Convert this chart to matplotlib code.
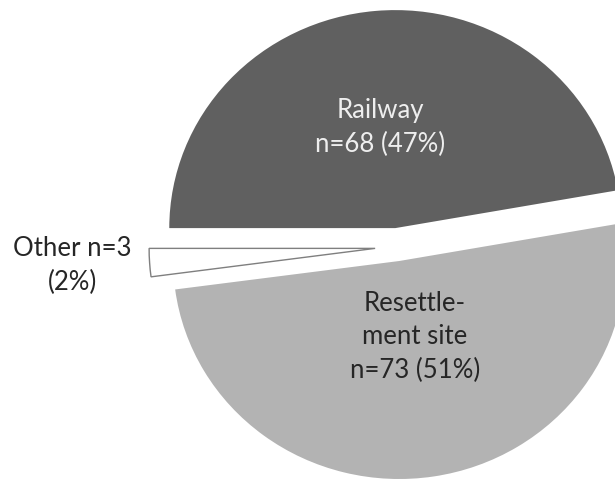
import matplotlib.pyplot as plt

# counts per site
labels = ["Railway", "Other", "Resettlement site"]
counts = [68, 3, 73]
colors = ["#606060", "#ffffff", "#b3b3b3"]
explode = [0.087, 0.097, 0.065]

total = sum(counts)
pct = [round(100 * c / total) for c in counts]

plt.rcParams["font.family"] = ["Lato", "DejaVu Sans"]

fig = plt.figure(figsize=(6.15, 4.8), dpi=100)
ax = fig.add_axes([0, 0, 1, 1])

wedges, _ = ax.pie(counts, colors=colors, explode=explode, startangle=10,
                   counterclock=True, radius=1.0)
for w in wedges:
    w.set_edgecolor("none")
# the small white slice gets a thin outline
wedges[1].set_edgecolor("#7f7f7f")
wedges[1].set_linewidth(1.0)

# slightly squashed pie, centre placed left of the middle
ax.set_aspect("auto")
ax.set_xlim(-1.7566, 0.9646)
ax.set_ylim(-1.0688, 1.1330)
ax.axis("off")

fs = 18.5
ls = 1.44
ax.text(-0.075, 0.55, "%s\nn=%d (%d%%)" % (labels[0], counts[0], pct[0]),
        ha="center", va="center", fontsize=fs, color="#eeeeee",
        linespacing=ls)
ax.text(0.08, -0.413, "Resettle-\nment site\nn=%d (%d%%)" % (counts[2], pct[2]),
        ha="center", va="center", fontsize=fs, color="#262626",
        linespacing=ls)
ax.text(-1.438, -0.083, "%s n=%d\n(%d%%)" % (labels[1], counts[1], pct[1]),
        ha="center", va="center", fontsize=fs, color="#262626",
        linespacing=ls)

fig.savefig("out.png", dpi=100)
